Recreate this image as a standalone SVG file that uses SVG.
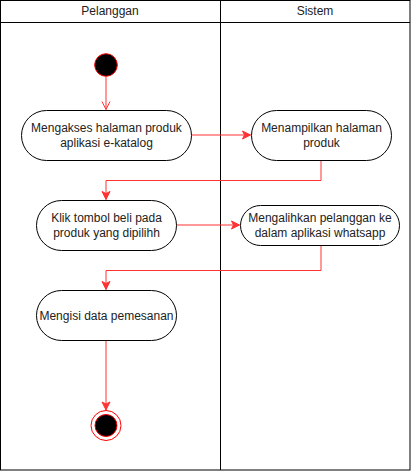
<svg xmlns="http://www.w3.org/2000/svg" width="411" height="471" viewBox="0 0 411 471">
<style>
.lane{fill:none;stroke:#000;stroke-width:1}
.act{fill:#fff;stroke:#000;stroke-width:1}
.t{font-family:"Liberation Sans",Arial,sans-serif;font-size:12px;fill:#222;text-anchor:middle}
.e{fill:none;stroke:#FF3333;stroke-width:1}
</style>
<defs>
<marker id="blk" markerUnits="userSpaceOnUse" markerWidth="12" markerHeight="12" viewBox="-10 -6 12 12" refX="0" refY="0" orient="auto">
<path d="M-8,-4 L0,0 L-8,4 L-6,0 Z" fill="#FF3333" stroke="#FF3333" stroke-width="1"/>
</marker>
<marker id="opn" markerUnits="userSpaceOnUse" markerWidth="12" markerHeight="12" viewBox="-10 -6 12 12" refX="0" refY="0" orient="auto">
<path d="M-8,-4 L0,0 L-8,4" fill="none" stroke="#FF3333" stroke-width="1"/>
</marker>
</defs>
<g id="pool">
<rect class="lane" x="0.5" y="0.5" width="409.5" height="469.5" fill="#fff"/>
<line class="lane" x1="0.5" y1="22.5" x2="410" y2="22.5"/>
<line class="lane" x1="220.5" y1="0.5" x2="220.5" y2="470"/>
<text class="t" x="110" y="15">Pelanggan</text>
<text class="t" x="315" y="15">Sistem</text>
</g>
<g id="connectors">
<path class="e" d="M106,77 L106,109.5" marker-end="url(#opn)"/>
<path class="e" d="M191.5,135 L250.5,135" marker-end="url(#blk)"/>
<path class="e" d="M321,160 L321,180.5 L106,180.5 L106,199.5" marker-end="url(#blk)"/>
<path class="e" d="M176.5,225 L239.5,225" marker-end="url(#blk)"/>
<path class="e" d="M321,245 L321,270.5 L106,270.5 L106,289.5" marker-end="url(#blk)"/>
<path class="e" d="M106,340 L106,410" marker-end="url(#blk)"/>
</g>
<g id="start">
<circle cx="106" cy="65" r="11.3" fill="#000" stroke="#FF0000" stroke-width="1"/>
</g>
<g id="n1">
<rect class="act" x="21.5" y="110.5" width="170" height="50" rx="25" ry="25"/>
<text class="t" x="106.5" y="132">Mengakses halaman produk</text>
<text class="t" x="106.5" y="147">aplikasi e-katalog</text>
</g>
<g id="n2">
<rect class="act" x="251.5" y="110.5" width="140" height="50" rx="25" ry="25"/>
<text class="t" x="321.5" y="132">Menampilkan halaman</text>
<text class="t" x="321.5" y="147">produk</text>
</g>
<g id="n3">
<rect class="act" x="36.5" y="200.5" width="140" height="50" rx="25" ry="25"/>
<text class="t" x="106.5" y="222">Klik tombol beli pada</text>
<text class="t" x="106.5" y="237">produk yang dipilihh</text>
</g>
<g id="n4">
<rect class="act" x="240.5" y="205.5" width="159" height="40" rx="20" ry="20"/>
<text class="t" x="320" y="222">Mengalihkan pelanggan ke</text>
<text class="t" x="320" y="237">dalam aplikasi whatsapp</text>
</g>
<g id="n5">
<rect class="act" x="36.5" y="290.5" width="140" height="50" rx="25" ry="25"/>
<text class="t" x="106.5" y="319.5">Mengisi data pemesanan</text>
</g>
<g id="end">
<circle cx="106" cy="425.5" r="15" fill="#fff" stroke="#FF0000" stroke-width="1"/>
<circle cx="106" cy="425.5" r="11" fill="#000" stroke="#FF0000" stroke-width="1"/>
</g>
</svg>
